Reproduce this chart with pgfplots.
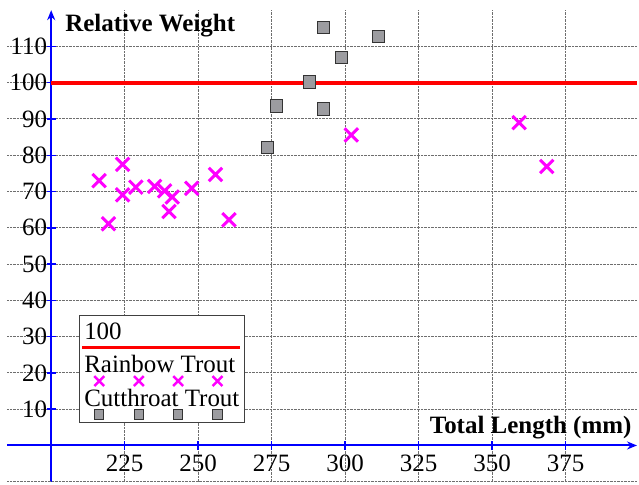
\documentclass[border=0pt]{standalone}
\usepackage{fontspec}
\setmainfont{Liberation Serif}
\usepackage{pgfplots}
\pgfplotsset{compat=1.18}
\usetikzlibrary{arrows.meta}
\definecolor{axisblue}{RGB}{0,0,255}
\definecolor{troutpink}{RGB}{255,0,255}
\definecolor{sqgray}{RGB}{156,156,160}
\definecolor{griddots}{RGB}{110,110,110}

\begin{document}
\begin{tikzpicture}
\begin{axis}[
  scale only axis,
  width=630.9pt, height=472.3pt,
  xmin=185, xmax=399.3, ymin=-10, ymax=120,
  axis x line=middle,
  axis y line=left,
  axis y line shift=-44.2pt,
  axis line style={axisblue, line width=2pt, -{Stealth[length=10pt,width=8pt]}},
  xtick={225,250,...,375},
  ytick={10,20,...,110},
  xticklabel={\textrm{\pgfmathprintnumber[assume math mode=true]{\tick}}},
  yticklabel={\textrm{\pgfmathprintnumber[assume math mode=true]{\tick}}},
  extra y ticks={-10}, extra y tick labels={},
  extra y tick style={major tick length=0pt},
  tick style={axisblue, line width=1.5pt},
  tick align=center,
  major tick length=9pt,
  grid=major,
  grid style={griddots, densely dotted, line width=1pt},
  ticklabel style={font=\fontsize{25}{30}\selectfont\rmfamily, inner sep=2pt},
  yticklabel style={xshift=2.5pt},
  xticklabel style={yshift=-3pt},
  clip=false,
  every axis x label/.style={at={(axis cs:398.6,3.2)}, anchor=base east, font=\fontsize{25}{30}\selectfont\bfseries},
  every axis y label/.style={at={(axis cs:203.6,114)}, anchor=base west, font=\fontsize{25}{30}\selectfont\bfseries},
  xlabel={Total Length (mm)},
  ylabel={Relative Weight},
  legend cell align=left,
  legend style={at={(axis cs:209.5,36.1)}, anchor=north west, draw=black!75, fill=white,
    inner xsep=3pt, inner ysep=4pt, row sep=0pt,
    font=\fontsize{25}{30}\selectfont,
    nodes={inner sep=2pt, text height=19pt, text depth=10.3pt}},
]
% reference line at 100
\addplot[red, line width=4pt,
  legend image code/.code={\draw[overlay, red, line width=3pt] (0pt,-12pt) -- (158pt,-12pt);}]
  coordinates {(200,100) (399.3,100)};
\addlegendentry{100}

\addplot[only marks, mark=x, mark size=9.5pt, troutpink, line width=3pt,
  legend image code/.code={\draw[overlay, troutpink, line width=2.5pt] plot[only marks, mark=x, mark size=7pt]
    coordinates {(17pt,-12.5pt) (56.7pt,-12.5pt) (96pt,-12.5pt) (135.4pt,-12.5pt)};}]
  coordinates {
  (216.3,73.0) (224.3,77.5) (219.5,61.1) (224.3,69.1) (228.8,71.2)
  (235.2,71.4) (238.6,70.2) (241.2,68.5) (240.1,64.5) (247.8,70.9)
  (255.9,74.7) (260.5,62.2) (302.1,85.6) (359.2,89.0) (368.6,76.9)
};
\addlegendentry{Rainbow Trout}

\addplot[only marks, mark=square*, mark size=6.2pt,
  mark options={fill=sqgray, draw=black!80, line width=1pt},
  legend image code/.code={\draw[overlay] plot[only marks, mark=square*, mark size=4.7pt,
    mark options={fill=sqgray, draw=black!80, line width=1pt}]
    coordinates {(17pt,-12.5pt) (56.7pt,-12.5pt) (96pt,-12.5pt) (135.4pt,-12.5pt)};}]
  coordinates {
  (273.5,82.1) (276.6,93.6) (287.9,100.2) (292.6,92.8)
  (292.6,115.3) (298.7,107.0) (311.4,112.7)
};
\addlegendentry{Cutthroat Trout}

\path (axis cs:182.6,-10.74) (axis cs:399.3,122.8);
\end{axis}
\end{tikzpicture}
\end{document}
